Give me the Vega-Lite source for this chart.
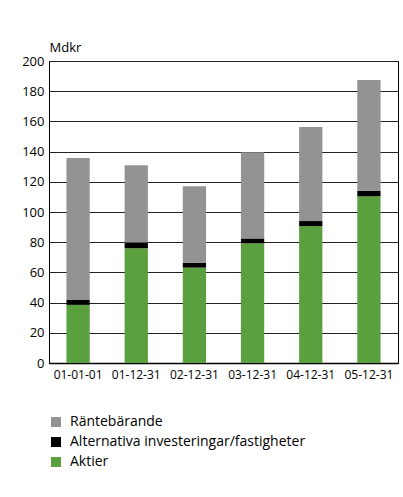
{
  "$schema": "https://vega.github.io/schema/vega-lite/v6.json",
  "autosize": {"type": "none"},
  "width": 349,
  "height": 302,
  "padding": {"left": 49, "top": 61, "right": 5, "bottom": 134},
  "background": "#ffffff",
  "config": {
    "font": "Open Sans",
    "view": {"stroke": "#000000", "strokeWidth": 1},
    "axis": {"labelFont": "Open Sans", "titleFont": "Open Sans"},
    "legend": {"labelFont": "Open Sans"}
  },
  "data": {
    "values": [
      {"datum": "01-01-01", "serie": "Aktier", "mdkr": 38.5},
      {"datum": "01-01-01", "serie": "Alternativa investeringar/fastigheter", "mdkr": 3.3},
      {"datum": "01-01-01", "serie": "Räntebärande", "mdkr": 94.0},
      {"datum": "01-12-31", "serie": "Aktier", "mdkr": 76.0},
      {"datum": "01-12-31", "serie": "Alternativa investeringar/fastigheter", "mdkr": 3.8},
      {"datum": "01-12-31", "serie": "Räntebärande", "mdkr": 51.1},
      {"datum": "02-12-31", "serie": "Aktier", "mdkr": 63.2},
      {"datum": "02-12-31", "serie": "Alternativa investeringar/fastigheter", "mdkr": 3.2},
      {"datum": "02-12-31", "serie": "Räntebärande", "mdkr": 50.6},
      {"datum": "03-12-31", "serie": "Aktier", "mdkr": 79.2},
      {"datum": "03-12-31", "serie": "Alternativa investeringar/fastigheter", "mdkr": 3.3},
      {"datum": "03-12-31", "serie": "Räntebärande", "mdkr": 57.0},
      {"datum": "04-12-31", "serie": "Aktier", "mdkr": 90.7},
      {"datum": "04-12-31", "serie": "Alternativa investeringar/fastigheter", "mdkr": 3.3},
      {"datum": "04-12-31", "serie": "Räntebärande", "mdkr": 62.3},
      {"datum": "05-12-31", "serie": "Aktier", "mdkr": 110.4},
      {"datum": "05-12-31", "serie": "Alternativa investeringar/fastigheter", "mdkr": 3.7},
      {"datum": "05-12-31", "serie": "Räntebärande", "mdkr": 73.3}
    ]
  },
  "mark": {"type": "bar"},
  "encoding": {
    "x": {
      "field": "datum",
      "type": "nominal",
      "sort": null,
      "scale": {"paddingInner": 0.6, "paddingOuter": 0.3},
      "axis": {
        "title": null,
        "labelAngle": 0,
        "labelFontSize": 12,
        "labelColor": "#000000",
        "labelPadding": 6,
        "ticks": false,
        "domainColor": "#000000",
        "domainWidth": 1.5
      }
    },
    "y": {
      "field": "mdkr",
      "type": "quantitative",
      "stack": "zero",
      "scale": {"domain": [0, 200], "nice": false},
      "axis": {
        "title": "Mdkr",
        "titleAngle": 0,
        "titleAlign": "left",
        "titleBaseline": "alphabetic",
        "titleX": 0,
        "titleY": -10,
        "titleFontSize": 13,
        "titleFontWeight": "normal",
        "titleColor": "#000000",
        "values": [0, 20, 40, 60, 80, 100, 120, 140, 160, 180, 200],
        "labelFontSize": 13,
        "labelColor": "#000000",
        "labelPadding": 5,
        "ticks": false,
        "grid": true,
        "gridColor": "#222222",
        "gridWidth": 1,
        "domainColor": "#000000"
      }
    },
    "color": {
      "field": "serie",
      "type": "nominal",
      "scale": {
        "domain": ["Räntebärande", "Alternativa investeringar/fastigheter", "Aktier"],
        "range": ["#939393", "#000000", "#5aa03f"]
      },
      "legend": {
        "title": null,
        "orient": "none",
        "legendX": 0,
        "legendY": 354,
        "symbolType": "square",
        "symbolSize": 100,
        "symbolStrokeWidth": 0,
        "labelFontSize": 14,
        "labelColor": "#000000",
        "labelLimit": 400,
        "labelOffset": 7,
        "rowPadding": 6
      }
    },
    "order": {"field": "serie", "sort": "ascending"}
  }
}
